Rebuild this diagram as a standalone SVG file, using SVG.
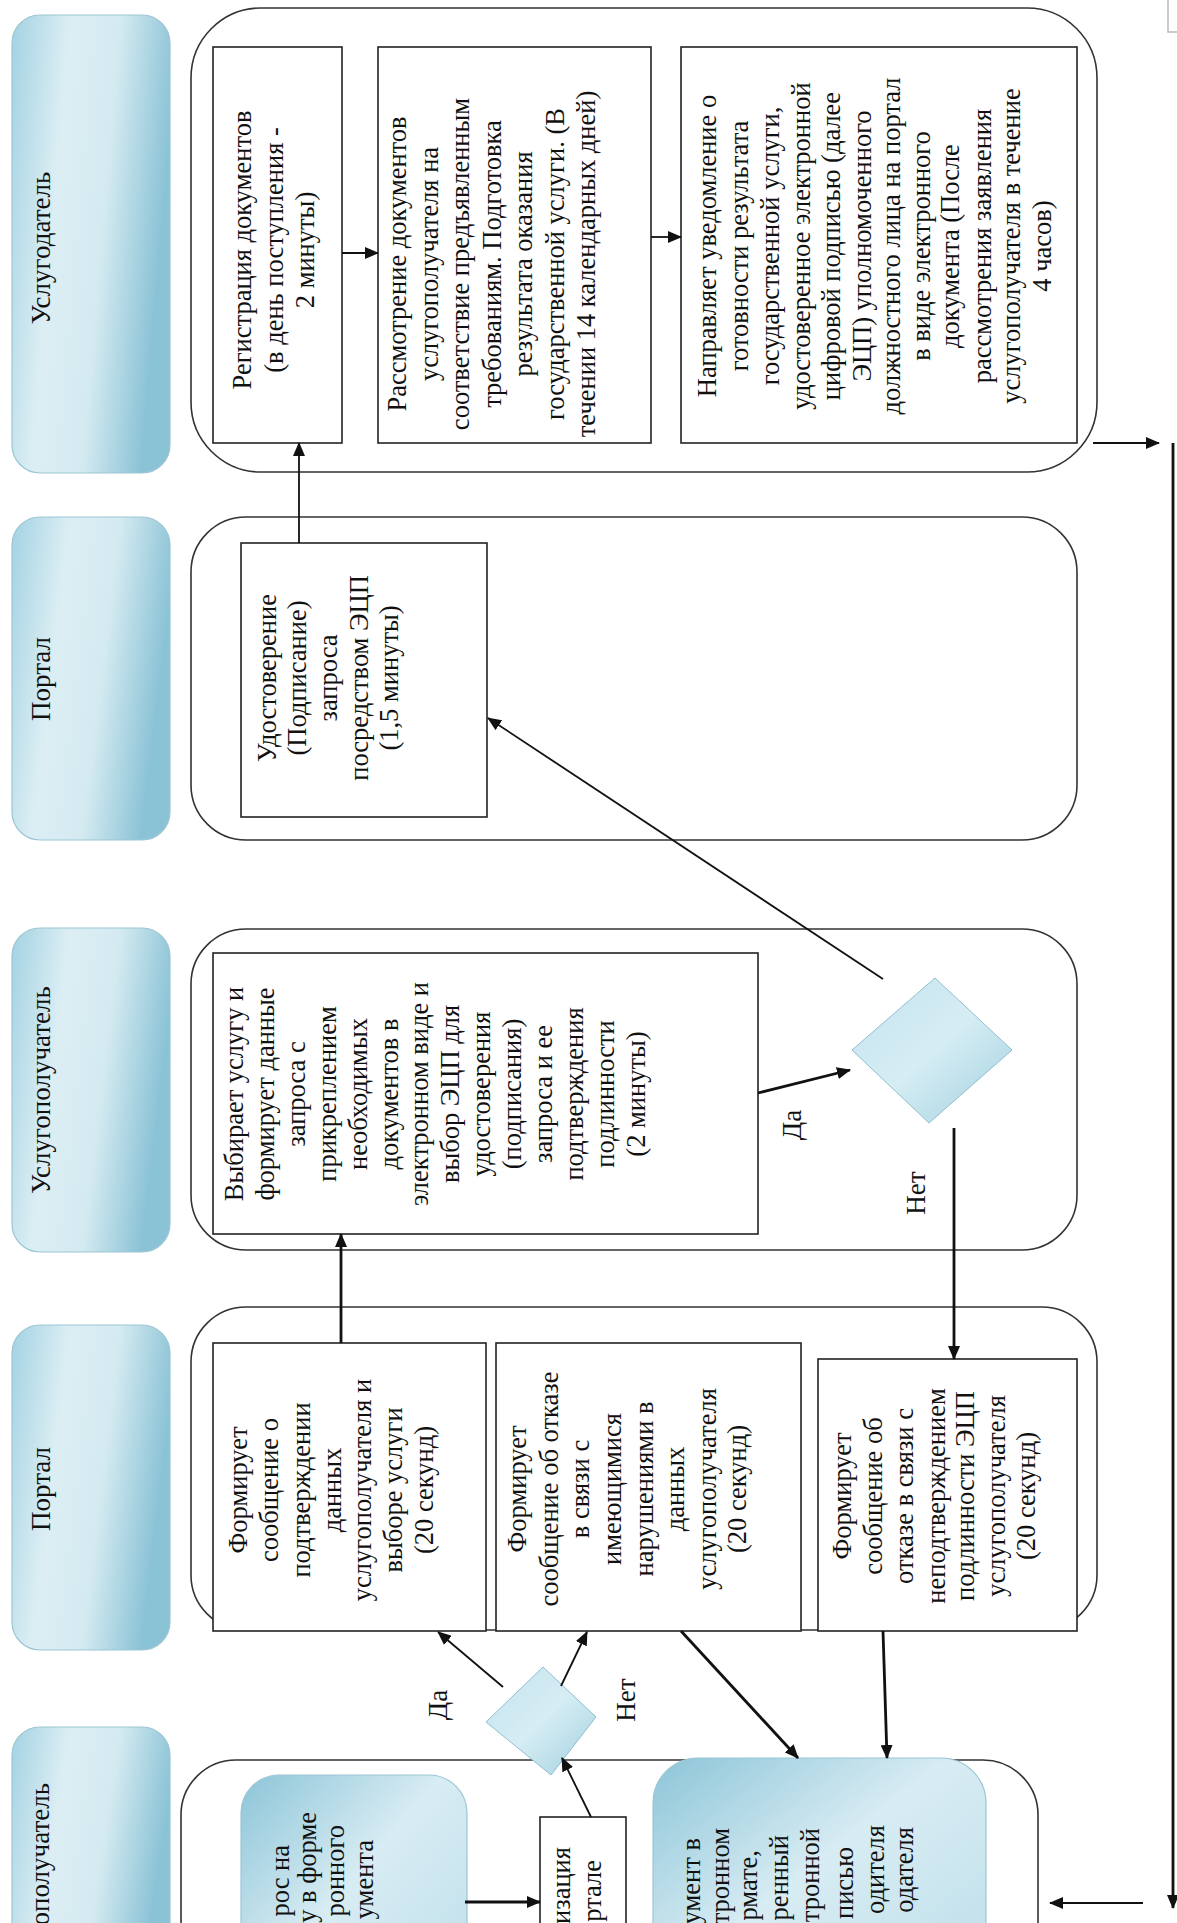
<svg xmlns="http://www.w3.org/2000/svg" width="1177" height="1923" viewBox="0 0 1177 1923">
<style>
.lane{fill:#fff;stroke:#333;stroke-width:1.6}
.box{fill:#fff;stroke:#222;stroke-width:1.6}
.hdr{fill:url(#gH);stroke:#9cc6d4;stroke-width:1.2}
.blue{fill:url(#gB);stroke:#9cc6d4;stroke-width:1.2}
.dia{fill:url(#gD);stroke:#8fc0d0;stroke-width:1}
.t{font-family:"Liberation Serif","Times New Roman",serif;font-size:26.5px;fill:#111;text-anchor:middle}
.h{font-family:"Liberation Serif","Times New Roman",serif;font-size:27px;fill:#111;text-anchor:middle}
.f{font-family:"Liberation Serif","Times New Roman",serif;font-size:26.5px;fill:#111;text-anchor:end}
.c{fill:none;stroke:#111;stroke-width:1.8}
.ck{fill:none;stroke:#111;stroke-width:2.8}
</style>
<defs>
<linearGradient id="gH" x1="0" y1="0" x2="1" y2="0.25">
<stop offset="0" stop-color="#a3d2e2"/>
<stop offset="0.35" stop-color="#dceef4"/>
<stop offset="0.65" stop-color="#d4eaf1"/>
<stop offset="1" stop-color="#8bc3d6"/>
</linearGradient>
<linearGradient id="gB" x1="0" y1="0" x2="1" y2="1">
<stop offset="0" stop-color="#8cc5d8"/>
<stop offset="0.45" stop-color="#d8ecf3"/>
<stop offset="1" stop-color="#b9dde9"/>
</linearGradient>
<linearGradient id="gD" x1="0" y1="0" x2="1" y2="1">
<stop offset="0" stop-color="#c4e3ee"/>
<stop offset="0.5" stop-color="#d6edf4"/>
<stop offset="1" stop-color="#9fd0df"/>
</linearGradient>
<marker id="ar" markerUnits="userSpaceOnUse" markerWidth="14" markerHeight="12" refX="13" refY="6" orient="auto">
<path d="M0,0 L14,6 L0,12 z" fill="#111"/>
</marker>
</defs>

<path d="M1168,0 V32 H1177" fill="none" stroke="#bbb" stroke-width="1.5"/>

<g id="lanes">
<rect id="lane1" class="lane" x="191" y="8" width="906" height="464" rx="70" ry="70"/>
<rect id="lane2" class="lane" x="191" y="517" width="886" height="323" rx="55" ry="55"/>
<rect id="lane3" class="lane" x="191" y="929" width="886" height="321" rx="55" ry="55"/>
<rect id="lane4" class="lane" x="191" y="1307" width="906" height="323" rx="55" ry="55"/>
<rect id="lane5" class="lane" x="181" y="1760" width="857" height="300" rx="55" ry="55"/>
</g>

<g id="hdr1"><rect class="hdr" x="12" y="15" width="158" height="458" rx="28"/>
<text class="h" transform="rotate(-90)" x="-248" y="50">Услугодатель</text></g>
<g id="hdr2"><rect class="hdr" x="12" y="517" width="158" height="323" rx="28"/>
<text class="h" transform="rotate(-90)" x="-679" y="50">Портал</text></g>
<g id="hdr3"><rect class="hdr" x="12" y="928" width="158" height="324" rx="28"/>
<text class="h" transform="rotate(-90)" x="-1090" y="50">Услугополучатель</text></g>
<g id="hdr4"><rect class="hdr" x="12" y="1325" width="158" height="325" rx="28"/>
<text class="h" transform="rotate(-90)" x="-1489" y="50">Портал</text></g>
<g id="hdr5"><rect class="hdr" x="12" y="1727" width="158" height="260" rx="28"/>
<text class="f" style="font-size:27px" transform="rotate(-90)" x="-1783" y="49">ополучатель</text></g>

<g id="u1"><rect class="box" x="213" y="47" width="129" height="396"/>
<text class="t" transform="rotate(-90)"><tspan x="-250" y="251">Регистрация документов</tspan><tspan x="-250" y="283">(в день поступления -</tspan><tspan x="-250" y="314">2 минуты)</tspan></text></g>

<g id="u2"><rect class="box" x="378" y="47" width="273" height="396"/>
<text class="t" transform="rotate(-90)"><tspan x="-264" y="406">Рассмотрение документов</tspan><tspan x="-264" y="437.5">услугополучателя на</tspan><tspan x="-264" y="469">соответствие предъявленным</tspan><tspan x="-264" y="500.5">требованиям. Подготовка</tspan><tspan x="-264" y="532">результата оказания</tspan><tspan x="-264" y="563.5">государственной услуги. (В</tspan><tspan x="-264" y="595">течении 14 календарных дней)</tspan></text></g>

<g id="u3"><rect class="box" x="681" y="47" width="396" height="396"/>
<text class="t" transform="rotate(-90)"><tspan x="-246" y="716">Направляет уведомление о</tspan><tspan x="-246" y="748">готовности результата</tspan><tspan x="-246" y="779">государственной услуги,</tspan><tspan x="-246" y="810">удостоверенное электронной</tspan><tspan x="-246" y="840">цифровой подписью (далее</tspan><tspan x="-246" y="871">ЭЦП) уполномоченного</tspan><tspan x="-246" y="900">должностного лица на портал</tspan><tspan x="-246" y="930">в виде электронного</tspan><tspan x="-246" y="959">документа (После</tspan><tspan x="-246" y="991">рассмотрения заявления</tspan><tspan x="-246" y="1020">услугополучателя в течение</tspan><tspan x="-246" y="1051">4 часов)</tspan></text></g>

<g id="p1"><rect class="box" x="241" y="543" width="246" height="274"/>
<text class="t" transform="rotate(-90)"><tspan x="-678" y="276">Удостоверение</tspan><tspan x="-678" y="306">(Подписание)</tspan><tspan x="-678" y="337">запроса</tspan><tspan x="-678" y="368">посредством ЭЦП</tspan><tspan x="-678" y="398">(1,5 минуты)</tspan></text></g>

<g id="c1"><rect class="box" x="213" y="953" width="545" height="281"/>
<text class="t" transform="rotate(-90)"><tspan x="-1094" y="243">Выбирает услугу и</tspan><tspan x="-1094" y="274">формирует данные</tspan><tspan x="-1094" y="305">запроса с</tspan><tspan x="-1094" y="336">прикреплением</tspan><tspan x="-1094" y="367">необходимых</tspan><tspan x="-1094" y="398">документов в</tspan><tspan x="-1094" y="428">электронном виде и</tspan><tspan x="-1094" y="459">выбор ЭЦП для</tspan><tspan x="-1094" y="490">удостоверения</tspan><tspan x="-1094" y="521">(подписания)</tspan><tspan x="-1094" y="552">запроса и ее</tspan><tspan x="-1094" y="583">подтверждения</tspan><tspan x="-1094" y="614">подлинности</tspan><tspan x="-1094" y="645">(2 минуты)</tspan></text></g>

<g id="d1"><polygon class="dia" points="935,978 1012,1050 929,1123 852,1050"/></g>

<g id="pp1"><rect class="box" x="213" y="1343" width="273" height="288"/>
<text class="t" transform="rotate(-90)"><tspan x="-1490" y="247">Формирует</tspan><tspan x="-1490" y="278">сообщение о</tspan><tspan x="-1490" y="310">подтверждении</tspan><tspan x="-1490" y="341">данных</tspan><tspan x="-1490" y="371">услугополучателя и</tspan><tspan x="-1490" y="402">выборе услуги</tspan><tspan x="-1490" y="433">(20 секунд)</tspan></text></g>

<g id="pp2"><rect class="box" x="496" y="1343" width="305" height="288"/>
<text class="t" transform="rotate(-90)"><tspan x="-1489" y="526">Формирует</tspan><tspan x="-1489" y="558">сообщение об отказе</tspan><tspan x="-1489" y="589">в связи с</tspan><tspan x="-1489" y="621">имеющимися</tspan><tspan x="-1489" y="653">нарушениями в</tspan><tspan x="-1489" y="684">данных</tspan><tspan x="-1489" y="716">услугополучателя</tspan><tspan x="-1489" y="746">(20 секунд)</tspan></text></g>

<g id="pp3"><rect class="box" x="818" y="1359" width="259" height="272"/>
<text class="t" transform="rotate(-90)"><tspan x="-1496" y="851">Формирует</tspan><tspan x="-1496" y="882">сообщение об</tspan><tspan x="-1496" y="913">отказе в связи с</tspan><tspan x="-1496" y="945">неподтверждением</tspan><tspan x="-1496" y="974">подлинности ЭЦП</tspan><tspan x="-1496" y="1005">услугополучателя</tspan><tspan x="-1496" y="1035">(20 секунд)</tspan></text></g>

<g id="d2"><polygon class="dia" points="543,1667 596,1717 551,1775 486,1722"/></g>

<g id="b1"><rect class="blue" x="241" y="1775" width="226" height="260" rx="38"/>
<text class="f" transform="rotate(-90)"><tspan x="-1845" y="289">рос на</tspan><tspan x="-1812" y="316">у в форме</tspan><tspan x="-1825" y="344">ронного</tspan><tspan x="-1840" y="373">умента</tspan></text></g>

<g id="reg"><rect class="box" x="540" y="1817" width="86" height="200"/>
<text class="f" transform="rotate(-90)"><tspan x="-1847" y="570">изация</tspan><tspan x="-1860" y="601">ртале</tspan></text></g>

<g id="b2"><rect class="blue" x="653" y="1758" width="333" height="260" rx="45"/>
<text class="f" transform="rotate(-90)"><tspan x="-1838" y="700">умент в</tspan><tspan x="-1828" y="729">тронном</tspan><tspan x="-1850" y="757">рмате,</tspan><tspan x="-1835" y="788">ренный</tspan><tspan x="-1828" y="819">тронной</tspan><tspan x="-1847" y="853">писью</tspan><tspan x="-1825" y="884">одителя</tspan><tspan x="-1827" y="913">одателя</tspan></text></g>

<g id="labels">
<text class="h" transform="rotate(-90)" x="-1125" y="801">Да</text>
<text class="h" transform="rotate(-90)" x="-1193" y="925">Нет</text>
<text class="h" transform="rotate(-90)" x="-1705" y="447">Да</text>
<text class="h" transform="rotate(-90)" x="-1700" y="635">Нет</text>
</g>

<g id="connectors">
<line class="c" x1="342" y1="253" x2="378" y2="253" marker-end="url(#ar)"/>
<line class="c" x1="651" y1="237" x2="681" y2="237" marker-end="url(#ar)"/>
<line class="c" x1="299" y1="543" x2="299" y2="443" marker-end="url(#ar)"/>
<line class="c" x1="883" y1="979" x2="488" y2="718" marker-end="url(#ar)"/>
<line class="ck" x1="758" y1="1093" x2="850" y2="1070" marker-end="url(#ar)"/>
<line class="ck" x1="954" y1="1128" x2="954" y2="1359" marker-end="url(#ar)"/>
<line class="ck" x1="341" y1="1343" x2="341" y2="1234" marker-end="url(#ar)"/>
<line class="c" x1="503" y1="1687" x2="438" y2="1632" marker-end="url(#ar)"/>
<line class="c" x1="561" y1="1686" x2="587" y2="1632" marker-end="url(#ar)"/>
<line class="c" x1="591" y1="1817" x2="562" y2="1758" marker-end="url(#ar)"/>
<line class="ck" x1="681" y1="1631" x2="798" y2="1758" marker-end="url(#ar)"/>
<line class="ck" x1="883" y1="1631" x2="887" y2="1758" marker-end="url(#ar)"/>
<line class="ck" x1="465" y1="1902" x2="540" y2="1902" marker-end="url(#ar)"/>
<line class="c" x1="1093" y1="443" x2="1159" y2="443" marker-end="url(#ar)"/>
<line class="ck" x1="1173" y1="443" x2="1173" y2="1908" marker-end="url(#ar)"/>
<line class="c" x1="1143" y1="1903" x2="1050" y2="1903" marker-end="url(#ar)"/>
</g>
</svg>
